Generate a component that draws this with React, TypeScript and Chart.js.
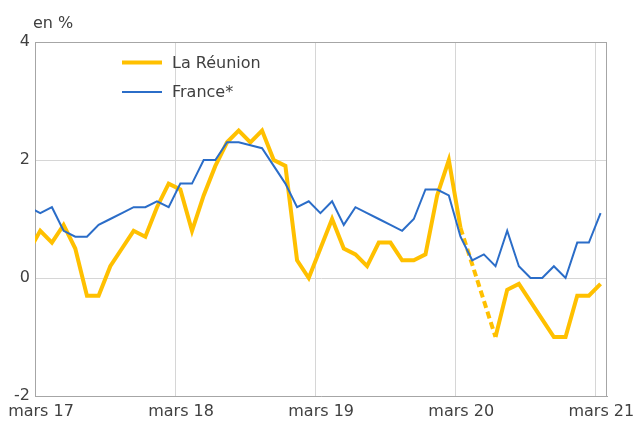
import React, { useEffect, useRef } from "react";
import { Chart, registerables } from "chart.js";

Chart.register(...registerables);

// Monthly observations (year-on-year change, %), Feb 2017 .. Mar 2021
const months = [
  "févr. 17", "mars 17", "avr. 17", "mai 17", "juin 17", "juil. 17", "août 17", "sept. 17", "oct. 17", "nov. 17", "déc. 17",
  "janv. 18", "févr. 18", "mars 18", "avr. 18", "mai 18", "juin 18", "juil. 18", "août 18", "sept. 18", "oct. 18", "nov. 18", "déc. 18",
  "janv. 19", "févr. 19", "mars 19", "avr. 19", "mai 19", "juin 19", "juil. 19", "août 19", "sept. 19", "oct. 19", "nov. 19", "déc. 19",
  "janv. 20", "févr. 20", "mars 20", "avr. 20", "mai 20", "juin 20", "juil. 20", "août 20", "sept. 20", "oct. 20", "nov. 20", "déc. 20",
  "janv. 21", "févr. 21", "mars 21",
];

const reunion: (number | null)[] = [
  0.45, 0.8, 0.6, 0.9, 0.5, -0.3, -0.3, 0.2, 0.5, 0.8, 0.7,
  1.2, 1.6, 1.5, 0.8, 1.4, 1.9, 2.3, 2.5, 2.3, 2.5, 2.0,
  1.9, 0.3, 0.0, 0.5, 1.0, 0.5, 0.4, 0.2, 0.6, 0.6, 0.3,
  0.3, 0.4, 1.4, 2.0, 0.85, null, null, -1.0, -0.2, -0.1, -0.4,
  -0.7, -1.0, -1.0, -0.3, -0.3, -0.1,
];

const france: number[] = [
  1.2, 1.1, 1.2, 0.8, 0.7, 0.7, 0.9, 1.0, 1.1, 1.2, 1.2,
  1.3, 1.2, 1.6, 1.6, 2.0, 2.0, 2.3, 2.3, 2.25, 2.2, 1.9,
  1.6, 1.2, 1.3, 1.1, 1.3, 0.9, 1.2, 1.1, 1.0, 0.9, 0.8,
  1.0, 1.5, 1.5, 1.4, 0.7, 0.3, 0.4, 0.2, 0.8, 0.2, 0.0,
  0.0, 0.2, 0.0, 0.6, 0.6, 1.1,
];

const seriesNames = ["La Réunion", "France*"];
const xTickValues = [0, 12, 24, 36, 48];
const xTickLabels = ["mars 17", "mars 18", "mars 19", "mars 20", "mars 21"];
const yMin = -2;
const yMax = 4;
const yStep = 2;
const unitLabel = "en %";

const YELLOW = "#FFC000";
const BLUE = "#2B6DC8";
const TEXT = "#404040";
const GRID = "#d6d6d6";
const BORDER = "#a6a6a6";
const FONT = "'DejaVu Sans', sans-serif";

// month index -> x position (mid-month, axis starts on 1 March 2017)
const toPoints = (arr: (number | null)[]) =>
  arr.map((v, i) => ({ x: i - 0.55, y: v }));

const decorPlugin = {
  id: "decor",
  beforeDatasetsDraw(chart: any) {
    const { ctx, chartArea: a } = chart;
    ctx.save();
    ctx.strokeStyle = BORDER;
    ctx.lineWidth = 1;
    ctx.beginPath();
    ctx.moveTo(Math.round(a.left), Math.round(a.top) + 0.5);
    ctx.lineTo(Math.round(a.right), Math.round(a.top) + 0.5);
    ctx.moveTo(Math.round(a.right) - 0.5, Math.round(a.top));
    ctx.lineTo(Math.round(a.right) - 0.5, Math.round(a.bottom));
    ctx.stroke();
    ctx.restore();
  },
  afterDraw(chart: any) {
    const { ctx } = chart;
    ctx.save();
    ctx.font = `16px ${FONT}`;
    ctx.fillStyle = TEXT;
    ctx.textAlign = "left";
    ctx.textBaseline = "alphabetic";
    ctx.fillText(unitLabel, 33, 28);

    const items = [
      { name: seriesNames[0], color: YELLOW, width: 4, y: 62.5 },
      { name: seriesNames[1], color: BLUE, width: 2, y: 92 },
    ];
    for (const it of items) {
      ctx.strokeStyle = it.color;
      ctx.lineWidth = it.width;
      ctx.beginPath();
      ctx.moveTo(122, it.y);
      ctx.lineTo(162, it.y);
      ctx.stroke();
      ctx.fillStyle = TEXT;
      ctx.textBaseline = "middle";
      ctx.fillText(it.name, 172, it.y + 1);
    }
    ctx.restore();
  },
};

export default function App() {
  const ref = useRef<HTMLCanvasElement | null>(null);

  useEffect(() => {
    document.body.style.margin = "0";
    const canvas = ref.current;
    if (!canvas) return;

    const gap = (ctx: any, value: any) =>
      ctx.p0.skip || ctx.p1.skip ? value : undefined;

    const chart = new Chart(canvas, {
      type: "line",
      data: {
        datasets: [
          {
            label: seriesNames[0],
            data: toPoints(reunion) as any,
            borderColor: YELLOW,
            backgroundColor: YELLOW,
            borderWidth: 4,
            pointRadius: 0,
            tension: 0,
            spanGaps: true,
            order: 1,
            segment: {
              borderDash: (ctx: any) => gap(ctx, [7, 4]),
            },
          },
          {
            label: seriesNames[1],
            data: toPoints(france) as any,
            borderColor: BLUE,
            backgroundColor: BLUE,
            borderWidth: 2,
            pointRadius: 0,
            tension: 0,
            order: 0,
          },
        ],
      },
      options: {
        animation: false,
        responsive: true,
        maintainAspectRatio: false,
        layout: { padding: { top: 42, right: 26, left: 0, bottom: 0 } },
        plugins: {
          legend: { display: false },
          tooltip: { enabled: false },
          title: { display: false },
        },
        scales: {
          x: {
            type: "linear",
            min: 0,
            max: 49,
            afterBuildTicks: (scale: any) => {
              scale.ticks = xTickValues.map((v) => ({ value: v }));
            },
            afterFit: (scale: any) => {
              scale.height = 29;
              scale.paddingLeft = 0;
              scale.paddingRight = 0;
            },
            ticks: {
              autoSkip: false,
              maxRotation: 0,
              padding: 6,
              labelOffset: 6,
              color: TEXT,
              font: { family: FONT, size: 16 },
              callback: (v: any) => {
                const i = xTickValues.indexOf(Number(v));
                return i >= 0 ? xTickLabels[i] : "";
              },
            },
            grid: { color: GRID, drawTicks: false, lineWidth: 1 },
            border: { display: true, color: BORDER },
          },
          y: {
            type: "linear",
            min: yMin,
            max: yMax,
            afterFit: (scale: any) => {
              scale.width = 35;
              scale.paddingTop = 0;
              scale.paddingBottom = 0;
            },
            ticks: {
              stepSize: yStep,
              padding: 5,
              color: TEXT,
              font: { family: FONT, size: 16 },
            },
            grid: { color: GRID, drawTicks: false, lineWidth: 1 },
            border: { display: true, color: BORDER },
          },
        },
      },
      plugins: [decorPlugin],
    });

    return () => chart.destroy();
  }, []);

  return (
    <div style={{ width: 633, height: 425, position: "relative" }}>
      <canvas ref={ref} />
    </div>
  );
}
